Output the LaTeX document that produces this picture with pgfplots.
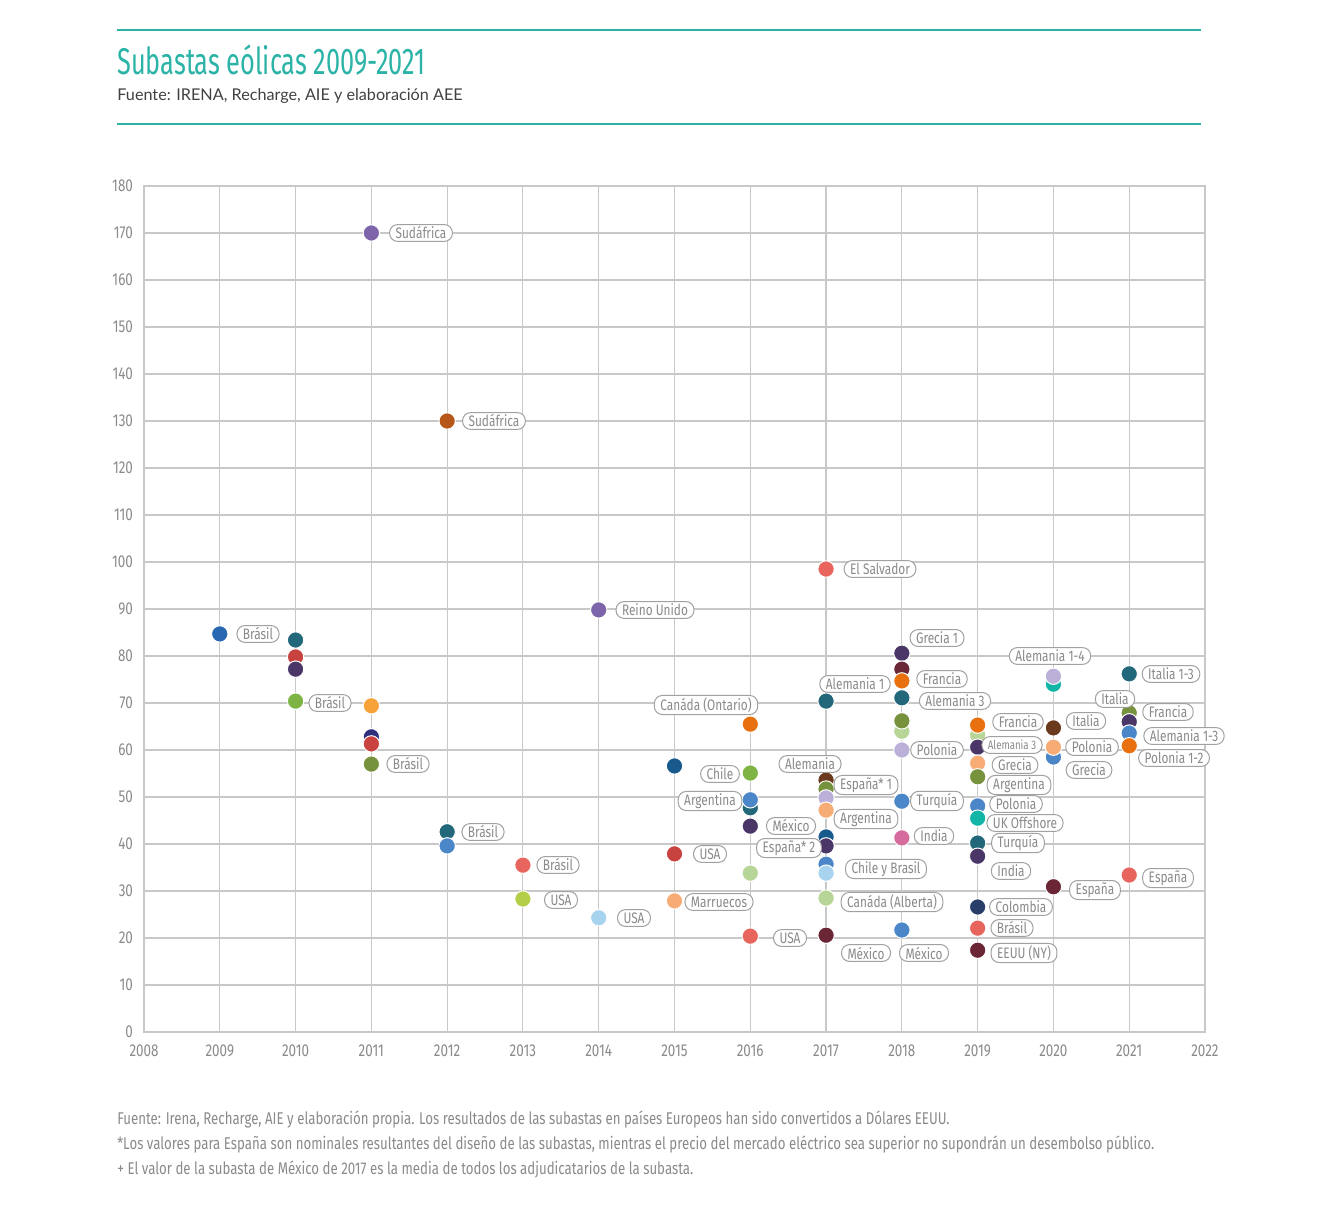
\documentclass[border=0pt]{standalone}
\usepackage{fontspec}
\setmainfont{Fira Sans}
\newfontfamily\cond[FakeStretch=0.78]{Fira Sans}
\newfontfamily\titlefont[FakeStretch=0.68]{Fira Sans}
\newfontfamily\subfont{Lato}
\usepackage{pgfplots}
\pgfplotsset{compat=1.18}

\definecolor{teal1}{HTML}{2AB3A6}
\definecolor{txtgray}{HTML}{8A8A8A}
\definecolor{gridgray}{HTML}{C8C8C8}
\definecolor{cBlueA}{HTML}{2867B2}
\definecolor{cTeal}{HTML}{23687A}
\definecolor{cRed}{HTML}{C8423F}
\definecolor{cPurpD}{HTML}{4A3768}
\definecolor{cGreen}{HTML}{7DB443}
\definecolor{cPurp}{HTML}{7E65AB}
\definecolor{cOrange}{HTML}{F6A239}
\definecolor{cNavy}{HTML}{2E2F7D}
\definecolor{cOlive}{HTML}{76923C}
\definecolor{cBrown}{HTML}{B5581A}
\definecolor{cBlueM}{HTML}{4B87C8}
\definecolor{cSalmon}{HTML}{E8655D}
\definecolor{cLime}{HTML}{B4CF47}
\definecolor{cLBlue}{HTML}{A7D3EE}
\definecolor{cDBlue}{HTML}{185A8C}
\definecolor{cPeach}{HTML}{F7AC76}
\definecolor{cOrangeD}{HTML}{E8700F}
\definecolor{cLGreen}{HTML}{B6D597}
\definecolor{cLav}{HTML}{BBB0D8}
\definecolor{cDRed}{HTML}{6B2636}
\definecolor{cBrownD}{HTML}{6B3A1E}
\definecolor{cPink}{HTML}{D66B9D}
\definecolor{cTurq}{HTML}{12B5A6}
\definecolor{cNavyB}{HTML}{2A3E6A}

% one auction = one dot
\newcommand{\pnt}[3]{\addplot[only marks, mark=*, mark size=4.1pt,
  mark options={fill=#1, draw=white, line width=0.5pt}] coordinates {(#2,#3)};}
% label pill, position in pixels of the 1320x1221 picture
\newcommand{\lab}[4][]{\node[lbl,#1] at ({#2*0.5pt},{(1221-#3)*0.5pt}) {#4};}

\begin{document}
\begin{tikzpicture}[
  lbl/.style={draw=txtgray!80, fill=white, text=txtgray, rounded corners=4pt,
    line width=0.5pt, inner xsep=3pt, inner ysep=1pt, minimum height=8.4pt,
    font=\cond\fontsize{7.6}{8}\selectfont}]
\useasboundingbox (0,0) rectangle (660pt,610.5pt);

% header
\draw[teal1, line width=1pt] (58.5pt,595.5pt) -- (600.5pt,595.5pt);
\draw[teal1, line width=1pt] (58.5pt,548.5pt) -- (600.5pt,548.5pt);
\node[anchor=base west, inner sep=0pt, text=teal1, font=\titlefont\fontsize{18.6}{20}\selectfont]
  at (58.5pt,573pt) {Subastas eólicas 2009-2021};
\node[anchor=base west, inner sep=0pt, text=black!75, font=\subfont\fontsize{8.1}{9}\selectfont]
  at (58.5pt,560pt) {Fuente: IRENA, Recharge, AIE y elaboración AEE};

\begin{axis}[
  at={(72pt,94.5pt)}, anchor=south west,
  scale only axis, width=530.5pt, height=423pt,
  xmin=2008, xmax=2022, ymin=0, ymax=180,
  xtick={2008,2009,...,2022}, ytick={0,10,...,180},
  grid=major, grid style={gridgray, line width=0.6pt},
  axis line style={gridgray, line width=0.6pt},
  major tick length=0pt,
  ticklabel style={font=\cond\fontsize{8.6}{9}\selectfont, text=txtgray},
  yticklabel style={xshift=-2pt},
  xticklabel style={yshift=-3pt},
  /pgf/number format/1000 sep={},
  /pgf/number format/assume math mode=true,
  clip=false,
]
% 2009
\pnt{cBlueA}{2009}{84.7}
% 2010
\pnt{cTeal}{2010}{83.4}
\pnt{cRed}{2010}{79.8}
\pnt{cPurpD}{2010}{77.2}
\pnt{cGreen}{2010}{70.4}
% 2011
\pnt{cPurp}{2011}{170}
\pnt{cOrange}{2011}{69.4}
\pnt{cNavy}{2011}{62.8}
\pnt{cRed}{2011}{61.3}
\pnt{cOlive}{2011}{57}
% 2012
\pnt{cBrown}{2012}{130}
\pnt{cTeal}{2012}{42.6}
\pnt{cBlueM}{2012}{39.6}
% 2013
\pnt{cSalmon}{2013}{35.5}
\pnt{cLime}{2013}{28.3}
% 2014
\pnt{cPurp}{2014}{89.8}
\pnt{cLBlue}{2014}{24.3}
% 2015
\pnt{cDBlue}{2015}{56.6}
\pnt{cRed}{2015}{37.9}
\pnt{cPeach}{2015}{27.9}
% 2016
\pnt{cOrangeD}{2016}{65.5}
\pnt{cGreen}{2016}{55.1}
\pnt{cTeal}{2016}{47.7}
\pnt{cBlueM}{2016}{49.4}
\pnt{cPurpD}{2016}{43.8}
\pnt{cLGreen}{2016}{33.8}
\pnt{cSalmon}{2016}{20.4}
% 2017
\pnt{cSalmon}{2017}{98.5}
\pnt{cTeal}{2017}{70.4}
\pnt{cBrownD}{2017}{53.6}
\pnt{cOlive}{2017}{51.7}
\pnt{cLav}{2017}{49.8}
\pnt{cPeach}{2017}{47.2}
\pnt{cDBlue}{2017}{41.5}
\pnt{cPurpD}{2017}{39.6}
\pnt{cBlueM}{2017}{35.7}
\pnt{cLBlue}{2017}{33.8}
\pnt{cLGreen}{2017}{28.5}
\pnt{cDRed}{2017}{20.6}
% 2018
\pnt{cPurpD}{2018}{80.6}
\pnt{cDRed}{2018}{77.2}
\pnt{cOrangeD}{2018}{74.7}
\pnt{cTeal}{2018}{71.1}
\pnt{cLGreen}{2018}{64}
\pnt{cOlive}{2018}{66.2}
\pnt{cLav}{2018}{60}
\pnt{cBlueM}{2018}{49.1}
\pnt{cPink}{2018}{41.3}
\pnt{cBlueM}{2018}{21.7}
% 2019
\pnt{cLGreen}{2019}{63.2}
\pnt{cOrangeD}{2019}{65.3}
\pnt{cPurpD}{2019}{60.6}
\pnt{cPeach}{2019}{57.2}
\pnt{cOlive}{2019}{54.3}
\pnt{cBlueM}{2019}{48.1}
\pnt{cTurq}{2019}{45.5}
\pnt{cTeal}{2019}{40.2}
\pnt{cPurpD}{2019}{37.4}
\pnt{cNavyB}{2019}{26.6}
\pnt{cSalmon}{2019}{22.1}
\pnt{cDRed}{2019}{17.4}
% 2020
\pnt{cTurq}{2020}{74}
\pnt{cLav}{2020}{75.7}
\pnt{cBrownD}{2020}{64.7}
\pnt{cBlueM}{2020}{58.5}
\pnt{cPeach}{2020}{60.6}
\pnt{cDRed}{2020}{30.9}
% 2021
\pnt{cTeal}{2021}{76.2}
\pnt{cOlive}{2021}{67.9}
\pnt{cPurpD}{2021}{66}
\pnt{cBlueM}{2021}{63.6}
\pnt{cOrangeD}{2021}{60.9}
\pnt{cSalmon}{2021}{33.4}
\end{axis}

% labels
\lab{258}{634}{Brásil}
\lab{330}{703}{Brásil}
\lab{421}{233}{Sudáfrica}
\lab{408}{764}{Brásil}
\lab{494}{421}{Sudáfrica}
\lab{483}{832}{Brásil}
\lab{558}{865}{Brásil}
\lab{561}{900}{USA}
\lab{655}{610}{Reino Unido}
\lab{634}{918}{USA}
\lab{710}{854}{USA}
\lab{719}{902}{Marruecos}
\lab{706}{705}{Canáda (Ontario)}
\lab{720}{774}{Chile}
\lab{710}{801}{Argentina}
\lab{791}{826}{México}
\lab{790}{938}{USA}
\lab{880}{569}{El Salvador}
\lab{855}{684}{Alemania 1}
\lab{810}{764}{Alemania}
\lab{866}{785}{España* 1}
\lab{866}{819}{Argentina}
\lab{789}{848}{España* 2}
\lab{886}{869}{Chile y Brasil}
\lab{892}{902}{Canáda (Alberta)}
\lab{866}{953}{México}
\lab{924}{953}{México}
\lab{937}{638}{Grecia 1}
\lab{942}{679}{Francia}
\lab{955}{701}{Alemania 3}
\lab{937}{750}{Polonia}
\lab{937}{801}{Turquía}
\lab{934}{836}{India}
\lab{1018}{722}{Francia}
\lab[font=\cond\fontsize{6.2}{7}\selectfont]{1012}{745}{Alemania 3}
\lab{1015}{765}{Grecia}
\lab{1019}{785}{Argentina}
\lab{1016}{804}{Polonia}
\lab{1025}{823}{UK Offshore}
\lab{1018}{843}{Turquía}
\lab{1011}{871}{India}
\lab{1021}{907}{Colombia}
\lab{1012}{928}{Brásil}
\lab{1024}{953}{EEUU (NY)}
\lab{1050}{656}{Alemania 1-4}
\lab{1086}{721}{Italia}
\lab{1092}{747}{Polonia}
\lab{1089}{770}{Grecia}
\lab{1095}{890}{España}
\lab{1171}{674}{Italia 1-3}
\lab{1115}{699}{Italia}
\lab{1168}{712}{Francia}
\lab{1184}{736}{Alemania 1-3}
\lab{1174}{758}{Polonia 1-2}
\lab{1168}{878}{España}

% footnotes
\begin{scope}[every node/.style={anchor=base west, inner sep=0pt, text=txtgray,
    font=\cond\fontsize{8.5}{9}\selectfont}]
\node at (58.5pt,48.5pt) {Fuente: Irena, Recharge, AIE y elaboración propia. Los resultados de las subastas en países Europeos han sido convertidos a Dólares EEUU.};
\node at (58.5pt,36pt) {*Los valores para España son nominales resultantes del diseño de las subastas, mientras el precio del mercado eléctrico sea superior no supondrán un desembolso público.};
\node at (58.5pt,23.5pt) {+ El valor de la subasta de México de 2017 es la media de todos los adjudicatarios de la subasta.};
\end{scope}
\end{tikzpicture}
\end{document}
